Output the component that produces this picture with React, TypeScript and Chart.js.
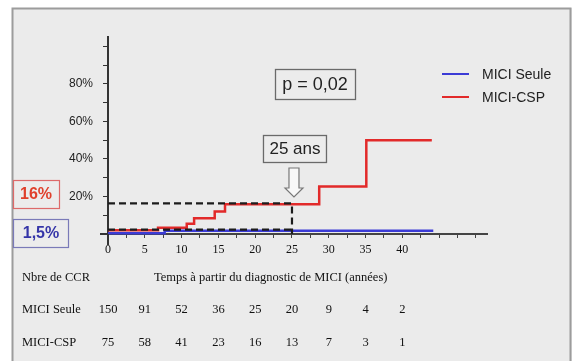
import React, { useEffect, useRef } from "react";
import { Chart, registerables } from "chart.js";

Chart.register(...registerables);

// ---- data ----
const xTickValues = [0, 2.5, 5, 7.5, 10, 12.5, 15, 17.5, 20, 22.5, 25, 27.5, 30, 32.5, 35, 37.5, 40, 42.5, 45, 47.5, 50];
const xLabelValues = [0, 5, 10, 15, 20, 25, 30, 35, 40];
const yTickValues = [0, 10, 20, 30, 40, 50, 60, 70, 80, 90, 100];
const yLabelValues = [20, 40, 60, 80];

const cspTimes = [0, 6.8, 10.7, 11.7, 14.5, 15.9, 28.7, 35.1, 44];
const cspValues = [2.0, 3.3, 5.5, 8.4, 12, 15.8, 25.3, 50, 50];
const seuleTimes = [0, 7.7, 44.2];
const seuleValues = [0.4, 1.7, 1.7];

const refTime = 25;
const refCsp = 16.3;
const refSeule = 2.3;

const atRiskYears = [0, 5, 10, 15, 20, 25, 30, 35, 40];
const atRiskSeule = [150, 91, 52, 36, 25, 20, 9, 4, 2];
const atRiskCsp = [75, 58, 41, 23, 16, 13, 7, 3, 1];

const seriesNames = ["MICI Seule", "MICI-CSP"];
const seriesColors = ["#3b3bd6", "#e22a2a"];

const SANS = "'Liberation Sans', Arial, sans-serif";
const SERIF = "'Liberation Serif', 'Times New Roman', serif";

const decor = {
  id: "decor",
  beforeDraw(chart: any) {
    const ctx = chart.ctx;
    ctx.save();
    ctx.fillStyle = "#ffffff";
    ctx.fillRect(0, 0, 574, 361);
    ctx.fillStyle = "#ebebeb";
    ctx.fillRect(12, 8, 560, 353);
    ctx.strokeStyle = "#9c9c9c";
    ctx.lineWidth = 2;
    ctx.beginPath();
    ctx.moveTo(12.5, 361);
    ctx.lineTo(12.5, 8.5);
    ctx.lineTo(570.5, 8.5);
    ctx.lineTo(570.5, 361);
    ctx.stroke();
    ctx.restore();
  },
  afterDraw(chart: any) {
    const ctx = chart.ctx;
    const xs = chart.scales.x;
    const ys = chart.scales.y;
    const x0 = xs.getPixelForValue(0);
    const y0 = ys.getPixelForValue(0);
    ctx.save();
    // axis extensions past the origin
    ctx.strokeStyle = "#333";
    ctx.lineWidth = 2;
    ctx.beginPath();
    ctx.moveTo(x0 - 8, y0);
    ctx.lineTo(x0, y0);
    ctx.moveTo(x0, y0);
    ctx.lineTo(x0, y0 + 11);
    ctx.stroke();

    // p box
    const box = (x: number, y: number, w: number, h: number, stroke: string) => {
      ctx.fillStyle = "#ececec";
      ctx.fillRect(x, y, w, h);
      ctx.strokeStyle = stroke;
      ctx.lineWidth = 1.3;
      ctx.strokeRect(x + 0.5, y + 0.5, w, h);
    };
    box(275, 69, 80, 30, "#6a6a6a");
    ctx.fillStyle = "#222";
    ctx.font = `18px ${SANS}`;
    ctx.textAlign = "center";
    ctx.textBaseline = "middle";
    ctx.fillText("p = 0,02", 315, 85);

    // 25 ans box
    const xr = xs.getPixelForValue(refTime);
    box(xr - 29, 135, 63, 27, "#6a6a6a");
    ctx.fillStyle = "#222";
    ctx.font = `17px ${SANS}`;
    ctx.fillText("25 ans", xr + 3, 149.5);

    // hollow arrow
    const ax = xr + 2;
    ctx.beginPath();
    ctx.moveTo(ax - 5, 168);
    ctx.lineTo(ax + 5, 168);
    ctx.lineTo(ax + 5, 188);
    ctx.lineTo(ax + 9, 188);
    ctx.lineTo(ax, 197);
    ctx.lineTo(ax - 9, 188);
    ctx.lineTo(ax - 5, 188);
    ctx.closePath();
    ctx.fillStyle = "#f8f8f8";
    ctx.fill();
    ctx.strokeStyle = "#777";
    ctx.lineWidth = 1.2;
    ctx.stroke();

    // legend
    ctx.textAlign = "left";
    ctx.font = `14px ${SANS}`;
    const legendY = [74, 97];
    seriesNames.forEach((name, i) => {
      ctx.strokeStyle = seriesColors[i];
      ctx.lineWidth = 2;
      ctx.beginPath();
      ctx.moveTo(442, legendY[i]);
      ctx.lineTo(469, legendY[i]);
      ctx.stroke();
      ctx.fillStyle = "#222";
      ctx.fillText(name, 482, legendY[i] + 1);
    });

    // left value boxes
    ctx.fillStyle = "#ececec";
    ctx.fillRect(13, 180, 46, 28);
    ctx.strokeStyle = "#dd6a6a";
    ctx.lineWidth = 1.2;
    ctx.strokeRect(13.5, 180.5, 46, 28);
    ctx.fillStyle = "#e0402c";
    ctx.font = `bold 16px ${SANS}`;
    ctx.textAlign = "center";
    ctx.fillText("16%", 36, 195);

    ctx.fillStyle = "#ececec";
    ctx.fillRect(13, 219, 55, 28);
    ctx.strokeStyle = "#7a7ab8";
    ctx.strokeRect(13.5, 219.5, 55, 28);
    ctx.fillStyle = "#3535a8";
    ctx.fillText("1,5%", 41, 234);

    // at-risk table
    ctx.fillStyle = "#111";
    ctx.font = `12.5px ${SERIF}`;
    ctx.textAlign = "left";
    ctx.fillText("Nbre de CCR", 22, 278);
    ctx.fillText("Temps \u00e0 partir du diagnostic de MICI (ann\u00e9es)", 154, 278);
    ctx.fillText("MICI Seule", 22, 310);
    ctx.fillText("MICI-CSP", 22, 343);
    ctx.textAlign = "center";
    atRiskYears.forEach((yr, i) => {
      const px = xs.getPixelForValue(yr);
      ctx.fillText(String(atRiskSeule[i]), px, 310);
      ctx.fillText(String(atRiskCsp[i]), px, 343);
    });
    ctx.restore();
  },
};

export default function App() {
  const ref = useRef<HTMLCanvasElement | null>(null);
  useEffect(() => {
    if (!ref.current) return;
    const chart = new Chart(ref.current, {
      type: "line",
      data: {
        datasets: [
          {
            label: "ref16",
            data: [
              { x: 0, y: refCsp },
              { x: refTime, y: refCsp },
              { x: refTime, y: 0 },
            ],
            borderColor: "#1c1c1c",
            borderWidth: 2.2,
            borderDash: [7, 4],
            pointRadius: 0,
            clip: false,
          } as any,
          {
            label: "ref15",
            data: [
              { x: 0, y: refSeule },
              { x: refTime, y: refSeule },
            ],
            borderColor: "#1c1c1c",
            borderWidth: 2.2,
            borderDash: [7, 4],
            pointRadius: 0,
            clip: false,
          },
          {
            label: seriesNames[1],
            data: cspTimes.map((t, i) => ({ x: t, y: cspValues[i] })),
            borderColor: seriesColors[1],
            borderWidth: 2.5,
            stepped: true,
            pointRadius: 0,
            clip: false,
          },
          {
            label: seriesNames[0],
            data: seuleTimes.map((t, i) => ({ x: t, y: seuleValues[i] })),
            borderColor: seriesColors[0],
            borderWidth: 2.5,
            stepped: true,
            pointRadius: 0,
            clip: false,
          },
        ],
      },
      options: {
        animation: false,
        responsive: false,
        devicePixelRatio: 1,
        layout: { padding: { left: 0, top: 37, right: 87, bottom: 0 } },
        plugins: { legend: { display: false }, tooltip: { enabled: false } },
        scales: {
          x: {
            type: "linear",
            min: 0,
            max: 51.5,
            afterFit: (s: any) => {
              s.height = 127;
            },
            afterBuildTicks: (s: any) => {
              s.ticks = xTickValues.map((v) => ({ value: v }));
            },
            grid: { drawOnChartArea: false, drawTicks: true, tickLength: 4, color: "#444", lineWidth: 1 },
            border: { display: true, color: "#444", width: 2 },
            ticks: {
              autoSkip: false,
              maxRotation: 0,
              padding: 5,
              color: "#111",
              font: { family: SERIF, size: 12 },
              callback: (v: any) => (xLabelValues.includes(Number(v)) ? String(v) : ""),
            },
          },
          y: {
            type: "linear",
            min: 0,
            max: 105,
            afterFit: (s: any) => {
              s.width = 108;
            },
            afterBuildTicks: (s: any) => {
              s.ticks = yTickValues.map((v) => ({ value: v }));
            },
            grid: { drawOnChartArea: false, drawTicks: true, tickLength: 5, color: "#333", lineWidth: 1 },
            border: { display: true, color: "#333", width: 2 },
            ticks: {
              autoSkip: false,
              padding: 10,
              color: "#222",
              font: { family: SANS, size: 12 },
              callback: (v: any) => (yLabelValues.includes(Number(v)) ? `${v}%` : ""),
            },
          },
        },
      },
      plugins: [decor],
    });
    return () => chart.destroy();
  }, []);
  return (
    <div style={{ position: "absolute", left: 0, top: 0, width: 574, height: 361 }}>
      <canvas ref={ref} width={574} height={361} style={{ display: "block", width: 574, height: 361 }} />
    </div>
  );
}
